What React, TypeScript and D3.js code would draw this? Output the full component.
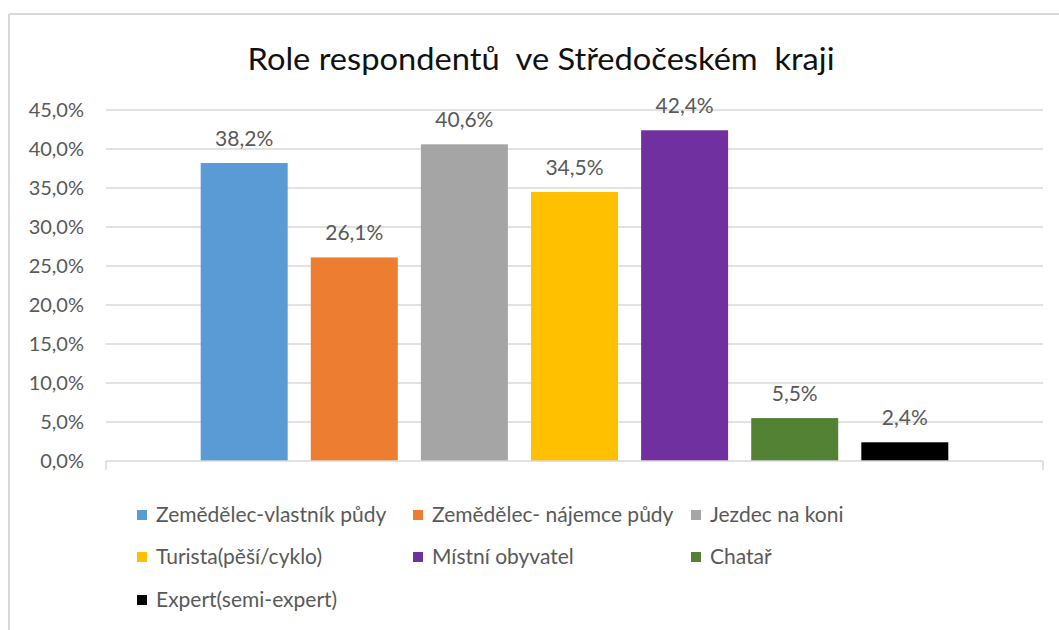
import React from "react";
import * as d3 from "d3";

const title = "Role respondentů  ve Středočeském  kraji";
const seriesNames = [
  "Zemědělec-vlastník půdy",
  "Zemědělec- nájemce půdy",
  "Jezdec na koni",
  "Turista(pěší/cyklo)",
  "Místní obyvatel",
  "Chatař",
  "Expert(semi-expert)",
];
const seriesValues = [38.2, 26.1, 40.6, 34.5, 42.4, 5.5, 2.4];
const seriesColors = ["#5B9BD5", "#ED7D31", "#A5A5A5", "#FFC000", "#7030A0", "#548235", "#000000"];
const yTicks = [0, 5, 10, 15, 20, 25, 30, 35, 40, 45];

const W = 1059;
const H = 630;
const plotLeft = 106;
const plotRight = 1043;
const plotTop = 110;
const plotBottom = 461;
const FONT = "Lato, 'Open Sans', sans-serif";
const TEXT = "#595959";
const GRID = "#D9D9D9";

const fmt = (v: number) => v.toFixed(1).replace(".", ",") + "%";

export default function App() {
  const y = d3.scaleLinear().domain([0, 45]).range([plotBottom, plotTop]);
  const x = d3
    .scaleBand<string>()
    .domain(seriesNames)
    .range([plotLeft, plotRight])
    .paddingInner(0.21)
    .paddingOuter(0.86);

  const legendCols = [137, 413, 691];
  const legendRows = [515, 557, 600];

  return (
    <svg
      width={W}
      height={H}
      style={{ position: "absolute", left: 0, top: 0, background: "#fff" }}
      fontFamily={FONT}
    >
      <rect x={0} y={0} width={W} height={H} fill="#fff" />
      {/* chart border */}
      <line x1={9} x2={W} y1={14} y2={14} stroke={GRID} strokeWidth={2} />
      <line x1={9} x2={9} y1={14} y2={H} stroke={GRID} strokeWidth={2} />

      <text
        x={541}
        y={70}
        textAnchor="middle"
        fontSize={30}
        fill="#111"
        textLength={587}
        lengthAdjust="spacingAndGlyphs"
        style={{ whiteSpace: "pre" }}
      >
        {title}
      </text>

      {/* gridlines + y labels */}
      {yTicks.map((t) => (
        <g key={t}>
          {t > 0 && (
            <line x1={plotLeft} x2={plotRight} y1={y(t)} y2={y(t)} stroke={GRID} strokeWidth={1.5} />
          )}
          <text x={84} y={y(t)} dy="0.35em" textAnchor="end" fontSize={20} fill={TEXT}>
            {fmt(t)}
          </text>
        </g>
      ))}

      {/* bars */}
      {seriesNames.map((n, i) => (
        <g key={n}>
          <rect
            x={x(n)}
            y={y(seriesValues[i])}
            width={x.bandwidth()}
            height={y(0) - y(seriesValues[i])}
            fill={seriesColors[i]}
          />
          <text
            x={(x(n) as number) + x.bandwidth() / 2}
            y={y(seriesValues[i]) - 17}
            textAnchor="middle"
            fontSize={21}
            fill={TEXT}
          >
            {fmt(seriesValues[i])}
          </text>
        </g>
      ))}

      {/* x axis */}
      <line x1={plotLeft} x2={plotRight} y1={plotBottom} y2={plotBottom} stroke={GRID} strokeWidth={1.5} />
      <line x1={plotLeft} x2={plotLeft} y1={plotBottom} y2={plotBottom + 9} stroke={GRID} strokeWidth={1.5} />
      <line x1={plotRight} x2={plotRight} y1={plotBottom} y2={plotBottom + 9} stroke={GRID} strokeWidth={1.5} />

      {/* legend */}
      {seriesNames.map((n, i) => {
        const cx = legendCols[i % 3];
        const cy = legendRows[Math.floor(i / 3)];
        return (
          <g key={"lg" + n}>
            <rect x={cx} y={cy - 5} width={10} height={10} fill={seriesColors[i]} />
            <text x={cx + 19} y={cy} dy="0.35em" fontSize={21} fill={TEXT}>
              {n}
            </text>
          </g>
        );
      })}
    </svg>
  );
}
